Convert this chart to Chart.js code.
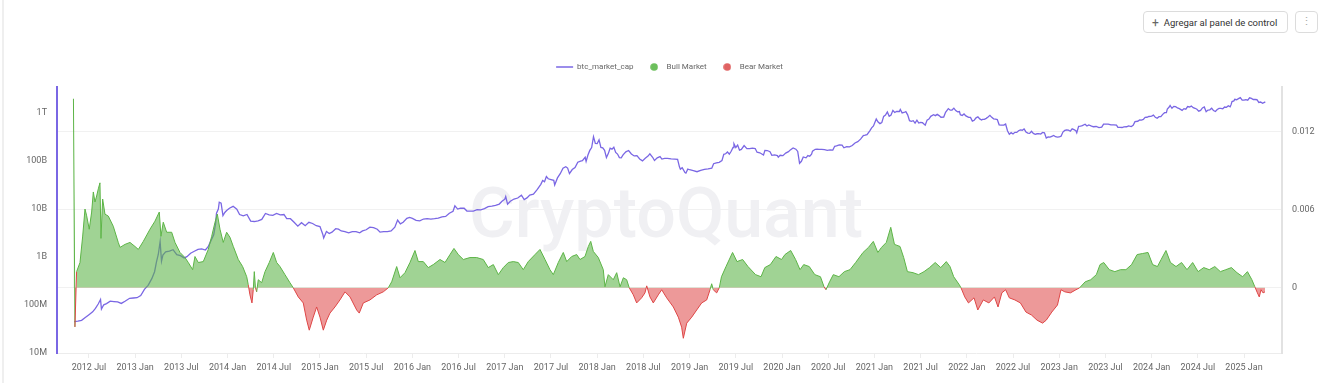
<!DOCTYPE html>
<html>
<head>
<meta charset="utf-8">
<script src="https://cdn.jsdelivr.net/npm/chart.js@4.4.1/dist/chart.umd.min.js"></script>
<style>
html,body{margin:0;padding:0;background:#fff;width:1320px;height:383px;overflow:hidden;font-family:Roboto,"Noto Sans",sans-serif;}
#wrap{position:absolute;left:0;top:0;width:1320px;height:383px;}
#edge{position:absolute;left:2px;top:0;width:2px;height:383px;background:#efefef;z-index:2;}
.btn{position:absolute;top:11px;height:20px;border:1px solid #dcdcdc;border-radius:4px;background:#fff;color:#333;font-size:9.5px;line-height:20px;z-index:3;white-space:nowrap;}
.btn .plus{color:#666;font-size:12px;margin:0 5px 0 8px;position:relative;top:1px;}
</style>
</head>
<body>
<div id="edge"></div>
<div id="wrap"><canvas id="c"></canvas></div>
<div class="btn" style="left:1143px;width:143px;"><span class="plus">+</span>Agregar al panel de control</div>
<div class="btn" style="left:1295px;width:21px;text-align:center;color:#aaa;font-size:11px;">&#8942;</div>
<script>
// ---------- DATA ----------
const seriesNames = ['btc_market_cap', 'Bull Market', 'Bear Market'];

const xTicks = [2012.5,2013,2013.5,2014,2014.5,2015,2015.5,2016,2016.5,2017,2017.5,2018,2018.5,2019,2019.5,2020,2020.5,2021,2021.5,2022,2022.5,2023,2023.5,2024,2024.5,2025];
const xTickLabels = ['2012 Jul','2013 Jan','2013 Jul','2014 Jan','2014 Jul','2015 Jan','2015 Jul','2016 Jan','2016 Jul','2017 Jan','2017 Jul','2018 Jan','2018 Jul','2019 Jan','2019 Jul','2020 Jan','2020 Jul','2021 Jan','2021 Jul','2022 Jan','2022 Jul','2023 Jan','2023 Jul','2024 Jan','2024 Jul','2025 Jan'];
const leftTicks = [1e7,1e8,1e9,1e10,1e11,1e12];
const leftTickLabels = ['10M','100M','1B','10B','100B','1T'];
const rightTicks = [0,0.006,0.012];
const rightTickLabels = ['0','0.006','0.012'];

// btc_market_cap (USD), x = decimal year
const capX = [2012.34,2012.38,2012.42,2012.46,2012.50,2012.54,2012.57,2012.60,2012.625,2012.635,2012.66,2012.69,2012.73,2012.77,2012.81,2012.85,2012.89,2012.94,2012.98,
2013.02,2013.06,2013.10,2013.14,2013.18,2013.21,2013.23,2013.25,2013.27,2013.285,2013.30,2013.33,2013.37,2013.41,2013.45,2013.49,2013.53,2013.56,2013.60,2013.64,2013.68,2013.72,2013.76,2013.79,2013.82,2013.85,2013.87,2013.88,2013.90,2013.91,2013.93,2013.95,2013.97,2013.99,
2014.02,2014.06,2014.10,2014.13,2014.17,2014.21,2014.25,2014.29,2014.33,2014.37,2014.41,2014.45,2014.49,2014.53,2014.57,2014.61,2014.64,2014.68,2014.72,2014.76,2014.80,2014.84,2014.88,2014.92,2014.96,
2015.00,2015.03,2015.04,2015.07,2015.10,2015.13,2015.17,2015.20,2015.23,2015.27,2015.31,2015.35,2015.39,2015.43,2015.46,2015.50,2015.54,2015.58,2015.62,2015.65,2015.69,2015.73,2015.77,2015.81,2015.84,2015.87,2015.90,2015.94,2015.97,
2016.00,2016.04,2016.08,2016.12,2016.16,2016.20,2016.24,2016.28,2016.32,2016.36,2016.40,2016.44,2016.46,2016.49,2016.52,2016.56,2016.59,2016.62,2016.66,2016.70,2016.74,2016.78,2016.82,2016.86,2016.90,2016.94,2016.97,
2017.00,2017.01,2017.03,2017.06,2017.10,2017.14,2017.18,2017.21,2017.24,2017.27,2017.31,2017.35,2017.39,2017.41,2017.43,2017.45,2017.47,2017.50,2017.53,2017.54,2017.57,2017.60,2017.63,2017.66,2017.68,2017.70,2017.73,2017.76,2017.79,2017.82,2017.84,2017.87,2017.88,2017.90,2017.92,2017.94,2017.96,2017.98,
2018.00,2018.02,2018.04,2018.06,2018.08,2018.10,2018.12,2018.14,2018.16,2018.18,2018.20,2018.22,2018.24,2018.26,2018.28,2018.31,2018.34,2018.37,2018.40,2018.43,2018.46,2018.49,2018.52,2018.55,2018.57,2018.60,2018.62,2018.65,2018.68,2018.70,2018.73,2018.76,2018.80,2018.84,2018.87,2018.89,2018.90,2018.92,2018.95,2018.96,2018.98,
2019.00,2019.04,2019.08,2019.12,2019.16,2019.20,2019.24,2019.26,2019.29,2019.32,2019.35,2019.37,2019.39,2019.41,2019.43,2019.45,2019.47,2019.48,2019.50,2019.52,2019.54,2019.56,2019.59,2019.62,2019.65,2019.68,2019.71,2019.73,2019.76,2019.80,2019.815,2019.84,2019.87,2019.89,2019.92,2019.95,2019.96,2019.98,
2020.01,2020.04,2020.07,2020.09,2020.12,2020.15,2020.17,2020.19,2020.21,2020.23,2020.26,2020.28,2020.30,2020.32,2020.33,2020.36,2020.38,2020.40,2020.43,2020.46,2020.49,2020.52,2020.55,2020.57,2020.59,2020.62,2020.65,2020.67,2020.70,2020.73,2020.76,2020.79,2020.82,2020.85,2020.88,2020.90,2020.92,2020.95,2020.97,2020.99,
2021.02,2021.04,2021.06,2021.08,2021.10,2021.12,2021.14,2021.16,2021.18,2021.20,2021.22,2021.24,2021.27,2021.28,2021.30,2021.32,2021.34,2021.36,2021.38,2021.40,2021.42,2021.44,2021.46,2021.48,2021.50,2021.52,2021.55,2021.57,2021.59,2021.61,2021.64,2021.66,2021.68,2021.70,2021.72,2021.75,2021.77,2021.80,2021.82,2021.84,2021.86,2021.88,2021.90,2021.92,2021.93,2021.95,2021.97,2021.99,
2022.02,2022.04,2022.06,2022.08,2022.10,2022.12,2022.14,2022.16,2022.17,2022.19,2022.21,2022.23,2022.25,2022.27,2022.29,2022.31,2022.33,2022.35,2022.37,2022.40,2022.42,2022.44,2022.46,2022.48,2022.50,2022.52,2022.54,2022.56,2022.58,2022.60,2022.62,2022.64,2022.66,2022.68,2022.70,2022.72,2022.74,2022.76,2022.78,2022.80,2022.82,2022.84,2022.86,2022.88,2022.90,2022.92,2022.94,2022.96,2022.98,
2023.00,2023.02,2023.04,2023.06,2023.08,2023.10,2023.12,2023.14,2023.16,2023.18,2023.19,2023.21,2023.23,2023.25,2023.28,2023.30,2023.32,2023.35,2023.37,2023.40,2023.43,2023.46,2023.48,2023.50,2023.53,2023.56,2023.59,2023.62,2023.635,2023.66,2023.68,2023.70,2023.73,2023.75,2023.78,2023.80,2023.82,2023.85,2023.87,2023.89,2023.91,2023.93,2023.95,2023.97,
2024.00,2024.02,2024.04,2024.06,2024.08,2024.10,2024.12,2024.14,2024.16,2024.17,2024.19,2024.20,2024.22,2024.24,2024.26,2024.28,2024.30,2024.33,2024.35,2024.37,2024.39,2024.41,2024.43,2024.45,2024.47,2024.49,2024.51,2024.53,2024.55,2024.57,2024.59,2024.61,2024.63,2024.65,2024.67,2024.69,2024.71,2024.73,2024.75,2024.77,2024.79,2024.81,2024.83,2024.85,2024.86,2024.87,2024.89,2024.90,2024.92,2024.94,2024.96,2024.98,
2025.00,2025.02,2025.04,2025.06,2025.08,2025.10,2025.12,2025.14,2025.16,2025.18,2025.20,2025.22,2025.23];
const capV = [4.5e7,4.6e7,4.8e7,5.5e7,6.3e7,7.2e7,8.5e7,1.05e8,1.3e8,8.2e7,1.01e8,1.07e8,1.2e8,1.18e8,1.16e8,1.08e8,1.2e8,1.38e8,1.4e8,
1.42e8,1.58e8,2.12e8,2.56e8,3.54e8,4.95e8,7.8e8,1.13e9,2.1e9,8.2e8,1.1e9,1.28e9,1.33e9,1.42e9,1.12e9,1.07e9,9.6e8,1.02e9,1.2e9,1.32e9,1.44e9,1.48e9,1.4e9,1.64e9,2.2e9,2.9e9,4.9e9,8.2e9,1.0e10,1.39e10,1.33e10,7.3e9,8.5e9,9.3e9,
1.04e10,1.14e10,9.9e9,7.7e9,7.2e9,7.7e9,5.6e9,5.5e9,5.7e9,6.1e9,8.1e9,7.6e9,7.4e9,8.1e9,7.6e9,7.7e9,6.3e9,6.3e9,5.3e9,4.4e9,5.2e9,4.5e9,5.3e9,5.0e9,4.5e9,
4.3e9,3.0e9,2.5e9,3.4e9,3.1e9,3.3e9,3.9e9,3.8e9,3.5e9,3.4e9,3.2e9,3.4e9,3.4e9,3.2e9,3.5e9,3.7e9,4.2e9,4.1e9,3.8e9,3.3e9,3.4e9,3.4e9,3.5e9,4.2e9,5.9e9,4.9e9,5.3e9,6.4e9,6.7e9,
6.4e9,5.8e9,5.7e9,6.2e9,6.3e9,6.2e9,6.3e9,6.5e9,6.9e9,7.0e9,8.2e9,9.0e9,1.17e10,1.0e10,1.05e10,1.04e10,9.1e9,9.1e9,9.1e9,9.7e9,9.6e9,1.02e10,1.12e10,1.15e10,1.19e10,1.27e10,1.45e10,
1.61e10,1.82e10,1.26e10,1.45e10,1.62e10,1.70e10,1.95e10,1.58e10,1.71e10,1.96e10,2.04e10,2.54e10,3.28e10,3.94e10,3.70e10,4.77e10,4.28e10,4.12e10,3.96e10,3.18e10,4.46e10,5.46e10,7.13e10,7.63e10,7.14e10,5.48e10,6.65e10,7.32e10,9.5e10,1.0e11,1.02e11,1.2e11,9.86e10,1.34e11,1.67e11,1.92e11,3.23e11,2.34e11,
2.31e11,2.76e11,1.93e11,1.88e11,1.68e11,1.18e11,1.43e11,1.85e11,1.77e11,1.94e11,1.52e11,1.40e11,1.18e11,1.17e11,1.35e11,1.56e11,1.66e11,1.41e11,1.28e11,1.30e11,1.11e11,1.01e11,1.15e11,1.27e11,1.42e11,1.20e11,1.03e11,1.17e11,1.24e11,1.10e11,1.14e11,1.14e11,1.11e11,1.10e11,1.09e11,7.6e10,6.8e10,7.3e10,5.75e10,5.6e10,6.8e10,
6.6e10,6.3e10,6.0e10,6.4e10,6.75e10,6.87e10,7.1e10,8.8e10,9.2e10,9.4e10,1.02e11,1.38e11,1.42e11,1.55e11,1.40e11,1.60e11,1.92e11,2.30e11,1.92e11,2.15e11,1.69e11,1.75e11,2.11e11,1.82e11,1.82e11,1.86e11,1.83e11,1.53e11,1.49e11,1.34e11,1.67e11,1.66e11,1.57e11,1.32e11,1.35e11,1.30e11,1.21e11,1.32e11,
1.30e11,1.47e11,1.57e11,1.71e11,1.88e11,1.77e11,1.59e11,9.0e10,9.9e10,1.22e11,1.17e11,1.30e11,1.26e11,1.39e11,1.61e11,1.76e11,1.78e11,1.75e11,1.75e11,1.73e11,1.68e11,1.71e11,1.70e11,2.03e11,2.07e11,2.18e11,2.14e11,1.89e11,2.00e11,1.98e11,2.11e11,2.39e11,2.54e11,2.87e11,3.39e11,3.47e11,3.56e11,4.27e11,4.92e11,5.39e11,
7.52e11,6.50e11,6.04e11,6.32e11,8.55e11,9.12e11,1.06e12,8.57e11,9.13e11,1.14e12,1.03e12,1.08e12,1.08e12,1.19e12,1.01e12,1.03e12,1.07e12,9.2e11,6.95e11,6.76e11,6.95e11,6.2e11,7.14e11,6.2e11,6.39e11,6.3e11,5.61e11,7.15e11,7.53e11,8.57e11,9.23e11,8.85e11,9.42e11,8.86e11,8.2e11,8.26e11,1.04e12,1.24e12,1.15e12,1.16e12,1.27e12,1.13e12,1.06e12,1.08e12,9.26e11,8.88e11,9.6e11,8.75e11,
8.13e11,8.13e11,6.81e11,7.1e11,7.95e11,8.33e11,7.57e11,7.2e11,7.39e11,7.39e11,7.77e11,8.34e11,8.99e11,8.16e11,7.6e11,7.51e11,7.32e11,5.7e11,5.61e11,5.61e11,5.9e11,4.29e11,3.62e11,3.91e11,3.68e11,3.97e11,3.95e11,4.29e11,4.45e11,4.39e11,4.66e11,4.05e11,3.82e11,3.78e11,4.17e11,3.77e11,3.62e11,3.71e11,3.73e11,3.66e11,3.96e11,3.87e11,3.03e11,3.2e11,3.16e11,3.28e11,3.41e11,3.22e11,3.17e11,
3.18e11,3.3e11,4.03e11,4.36e11,4.44e11,4.4e11,4.19e11,4.71e11,4.52e11,4.31e11,3.89e11,5.3e11,5.36e11,5.5e11,5.85e11,5.37e11,5.66e11,5.35e11,5.2e11,5.26e11,4.99e11,5.09e11,5.9e11,5.9e11,5.87e11,5.66e11,5.66e11,5.63e11,5.07e11,5.05e11,5.01e11,5.17e11,5.19e11,5.43e11,5.24e11,5.55e11,6.62e11,6.76e11,7.21e11,7.12e11,7.37e11,8.15e11,8.2e11,8.5e11,
8.64e11,9.09e11,8.16e11,7.81e11,8.42e11,8.45e11,9.41e11,1.02e12,1.02e12,1.22e12,1.34e12,1.44e12,1.26e12,1.38e12,1.36e12,1.28e12,1.24e12,1.14e12,1.24e12,1.21e12,1.37e12,1.34e12,1.4e12,1.3e12,1.26e12,1.2e12,1.1e12,1.14e12,1.28e12,1.34e12,1.07e12,1.16e12,1.17e12,1.26e12,1.13e12,1.08e12,1.19e12,1.25e12,1.26e12,1.23e12,1.34e12,1.32e12,1.42e12,1.35e12,1.5e12,1.74e12,1.8e12,1.94e12,1.9e12,2.0e12,2.1e12,1.86e12,
1.86e12,1.9e12,1.86e12,2.08e12,2.02e12,1.92e12,1.92e12,1.9e12,1.67e12,1.7e12,1.6e12,1.67e12,1.73e12];

// Bull / Bear market indicator (right axis), x = decimal year
const cycleX = [2012.332,2012.348,2012.366,2012.403,2012.432,2012.457,2012.475,2012.503,2012.529,2012.547,2012.565,2012.583,2012.601,2012.619,2012.630,2012.648,2012.673,2012.709,2012.763,2012.817,2012.836,2012.890,2012.944,2012.998,
2013.034,2013.088,2013.160,2013.214,2013.261,2013.279,2013.304,2013.341,2013.395,2013.431,2013.485,2013.539,2013.575,2013.622,2013.647,2013.683,2013.737,2013.791,2013.828,2013.864,2013.889,2013.918,2013.953,2013.990,
2014.026,2014.062,2014.116,2014.163,2014.207,2014.224,2014.242,2014.264,2014.278,2014.289,2014.302,2014.315,2014.332,2014.369,2014.405,2014.451,2014.495,2014.531,2014.567,2014.621,2014.675,2014.711,2014.765,2014.819,2014.856,2014.884,2014.927,2014.964,
2015.000,2015.036,2015.073,2015.108,2015.162,2015.216,2015.271,2015.325,2015.397,2015.425,2015.469,2015.541,2015.614,2015.685,2015.739,2015.776,2015.830,2015.866,2015.920,2015.974,
2016.028,2016.064,2016.118,2016.172,2016.226,2016.299,2016.353,2016.407,2016.450,2016.497,2016.551,2016.623,2016.696,2016.767,2016.821,2016.876,2016.930,2016.984,
2017.038,2017.092,2017.146,2017.200,2017.254,2017.327,2017.381,2017.435,2017.489,2017.525,2017.579,2017.633,2017.670,2017.724,2017.778,2017.814,2017.868,2017.904,2017.930,2017.958,
2018.012,2018.066,2018.084,2018.120,2018.174,2018.211,2018.247,2018.283,2018.319,2018.347,2018.391,2018.427,2018.481,2018.517,2018.536,2018.571,2018.607,2018.661,2018.698,2018.752,2018.824,2018.878,2018.914,2018.932,2018.969,
2019.023,2019.077,2019.131,2019.185,2019.221,2019.239,2019.256,2019.293,2019.321,2019.345,2019.394,2019.465,2019.513,2019.574,2019.632,2019.714,2019.773,2019.814,2019.874,2019.935,2019.995,
2020.032,2020.094,2020.147,2020.195,2020.235,2020.295,2020.355,2020.416,2020.455,2020.476,2020.515,2020.555,2020.616,2020.675,2020.736,2020.797,2020.877,2020.936,2020.988,
2021.037,2021.077,2021.129,2021.177,2021.217,2021.277,2021.317,2021.357,2021.418,2021.477,2021.537,2021.597,2021.658,2021.718,2021.778,2021.818,2021.858,2021.919,2021.937,2021.978,
2022.018,2022.078,2022.119,2022.178,2022.239,2022.299,2022.338,2022.379,2022.420,2022.460,2022.520,2022.580,2022.640,2022.700,2022.760,2022.820,2022.860,2022.920,2022.981,
2023.019,2023.061,2023.121,2023.181,2023.221,2023.281,2023.341,2023.402,2023.442,2023.482,2023.542,2023.602,2023.663,2023.722,2023.783,2023.843,2023.903,2023.961,
2024.011,2024.063,2024.103,2024.155,2024.204,2024.264,2024.324,2024.383,2024.444,2024.503,2024.564,2024.624,2024.684,2024.744,2024.803,2024.864,2024.924,2024.985,
2025.037,2025.085,2025.117,2025.145,2025.165,2025.184,2025.206,2025.227];
const cycleV = [0.0145,-0.0030,0.00124,0.00194,0.00397,0.00604,0.00552,0.00449,0.00581,0.00735,0.00658,0.00704,0.00759,0.00805,0.00379,0.00681,0.00565,0.00550,0.00472,0.00348,0.00310,0.00333,0.00348,0.00317,
0.00294,0.00356,0.00449,0.00511,0.00581,0.00395,0.00503,0.00426,0.00426,0.00348,0.00271,0.00232,0.00194,0.00139,0.00240,0.00194,0.00201,0.00294,0.00395,0.00503,0.00565,0.00449,0.00348,0.00426,
0.00387,0.00317,0.00217,0.00163,0.00085,0.00023,-0.00054,-0.00116,-0.00015,0.00124,0.00000,-0.00031,0.00062,0.00039,0.00124,0.00194,0.00271,0.00194,0.00163,0.00101,0.00039,0.00000,-0.00070,-0.00116,-0.00248,-0.00325,-0.00225,-0.00147,
-0.00225,-0.00325,-0.00248,-0.00194,-0.00147,-0.00093,-0.00031,-0.00070,-0.00170,-0.00194,-0.00116,-0.00093,-0.00054,-0.00031,0.00000,0.00046,0.00163,0.00077,0.00116,0.00194,
0.00286,0.00201,0.00201,0.00155,0.00178,0.00217,0.00194,0.00255,0.00302,0.00255,0.00217,0.00232,0.00232,0.00217,0.00155,0.00178,0.00101,0.00155,
0.00194,0.00201,0.00194,0.00139,0.00201,0.00255,0.00294,0.00217,0.00139,0.00101,0.00194,0.00271,0.00201,0.00240,0.00255,0.00217,0.00240,0.00317,0.00356,0.00279,
0.00232,0.00139,0.00008,0.00101,0.00062,0.00116,0.00008,0.00077,0.00062,0.00000,-0.00054,-0.00116,-0.00077,-0.00039,0.00015,-0.00070,-0.00116,-0.00054,-0.00015,-0.00077,-0.00147,-0.00225,-0.00302,-0.00387,-0.00271,
-0.00225,-0.00170,-0.00116,-0.00093,-0.00015,0.00031,-0.00015,-0.00039,0.00000,0.00085,0.00163,0.00271,0.00201,0.00217,0.00163,0.00101,0.00085,0.00155,0.00178,0.00240,0.00217,
0.00255,0.00286,0.00217,0.00139,0.00178,0.00163,0.00101,0.00085,0.00008,-0.00015,0.00046,0.00101,0.00085,0.00124,0.00139,0.00194,0.00271,0.00310,0.00356,
0.00271,0.00310,0.00348,0.00464,0.00333,0.00317,0.00232,0.00124,0.00116,0.00101,0.00124,0.00155,0.00194,0.00155,0.00201,0.00163,0.00085,0.00023,0.00000,-0.00070,
-0.00116,-0.00077,-0.00170,-0.00093,-0.00116,-0.00070,-0.00147,-0.00039,-0.00015,-0.00077,-0.00093,-0.00116,-0.00186,-0.00209,-0.00248,-0.00271,-0.00248,-0.00186,-0.00132,
-0.00015,-0.00031,-0.00039,-0.00015,0.00000,0.00046,0.00062,0.00101,0.00178,0.00194,0.00139,0.00124,0.00139,0.00139,0.00178,0.00255,0.00263,0.00271,
0.00178,0.00163,0.00217,0.00286,0.00194,0.00163,0.00194,0.00139,0.00194,0.00124,0.00155,0.00139,0.00163,0.00124,0.00139,0.00155,0.00116,0.00085,
0.00124,0.00062,0.00008,-0.00039,-0.00070,-0.00015,-0.00039,-0.00031];

// ---------- STYLE ----------
const PURPLE = '#7a67e4';
const GREEN = '#5cb446';
const RED = '#de4646';
const GREEN_FILL = 'rgba(92,180,70,0.58)';
const RED_FILL = 'rgba(222,70,70,0.55)';

function dotImage(color){
  const c = document.createElement('canvas');
  c.width = 8; c.height = 8;
  const g = c.getContext('2d');
  g.fillStyle = color; g.beginPath(); g.arc(4,4,3.8,0,Math.PI*2); g.fill();
  return c;
}
const greenDot = dotImage('#6cbf5c');
const redDot = dotImage('#e06262');

Chart.defaults.font.family = 'Roboto, "Noto Sans", sans-serif';
Chart.defaults.font.size = 9;
Chart.defaults.color = '#666';

const watermark = {
  id: 'watermark',
  beforeDatasetsDraw(chart){
    const ctx = chart.ctx;
    ctx.save();
    ctx.font = '500 70px Roboto';
    ctx.fillStyle = '#f0f0f3';
    ctx.textAlign = 'left';
    ctx.textBaseline = 'alphabetic';
    ctx.fillText('CryptoQuant', 469, 237);
    ctx.restore();
  }
};
const legendGap = {
  id: 'legendGap',
  beforeInit(chart){
    const fit = chart.legend.fit;
    chart.legend.fit = function(){ fit.bind(chart.legend)(); this.height += 6; };
  }
};

new Chart(document.getElementById('c'), {
  type: 'line',
  data: {
    datasets: [
      {
        label: seriesNames[0],
        data: capX.map((x,i)=>({x, y: capV[i]})),
        yAxisID: 'y',
        borderColor: PURPLE,
        borderWidth: 1.3,
        pointRadius: 0,
        tension: 0,
        fill: false,
        order: 1
      },
      {
        label: seriesNames[1],
        data: cycleX.map((x,i)=>({x, y: cycleV[i]})),
        yAxisID: 'y1',
        borderColor: GREEN,
        borderWidth: 1,
        pointRadius: 0,
        tension: 0,
        fill: {target: 'origin', above: GREEN_FILL, below: RED_FILL},
        segment: {
          borderColor: c => ((c.p0.parsed.y + c.p1.parsed.y) / 2 >= 0 ? GREEN : RED)
        },
        order: 0
      }
    ]
  },
  options: {
    responsive: true,
    maintainAspectRatio: false,
    animation: false,
    layout: {padding: {top: 51, left: 19, right: 0, bottom: 0}},
    plugins: {
      tooltip: {enabled: false},
      legend: {
        display: true,
        position: 'top',
        onClick: null,
        labels: {
          usePointStyle: true,
          pointStyleWidth: 17,
          boxHeight: 8,
          padding: 12,
          color: '#666',
          font: {size: 8},
          generateLabels: () => [
            {text: seriesNames[0], pointStyle: 'line', strokeStyle: PURPLE, fillStyle: PURPLE, lineWidth: 1.5, fontColor: '#666', datasetIndex: 0},
            {text: seriesNames[1], pointStyle: greenDot, strokeStyle: 'transparent', fillStyle: GREEN, lineWidth: 0, fontColor: '#666', datasetIndex: 1},
            {text: seriesNames[2], pointStyle: redDot, strokeStyle: 'transparent', fillStyle: RED, lineWidth: 0, fontColor: '#666', datasetIndex: 1}
          ]
        }
      }
    },
    scales: {
      x: {
        type: 'linear',
        min: 2012.154,
        max: 2025.411,
        afterBuildTicks: s => { s.ticks = xTicks.map(v => ({value: v})); },
        afterFit: s => { s.height = 30; },
        ticks: {
          autoSkip: false, maxRotation: 0, padding: 4, color: '#666',
          callback: (v, i) => xTickLabels[i]
        },
        grid: {drawOnChartArea: false, drawTicks: true, tickLength: 5, color: '#ececec'},
        border: {display: true, color: '#ececec', width: 1}
      },
      y: {
        type: 'logarithmic',
        position: 'left',
        min: 1e7,
        max: 3.5e12,
        afterBuildTicks: s => { s.ticks = leftTicks.map(v => ({value: v})); },
        afterFit: s => { s.width = 38; },
        ticks: {padding: 10, color: '#666', callback: (v, i) => leftTickLabels[i]},
        grid: {display: true, drawOnChartArea: false, drawTicks: false},
        border: {display: true, color: PURPLE, width: 2}
      },
      y1: {
        type: 'linear',
        position: 'right',
        min: -0.005,
        max: 0.0154,
        afterBuildTicks: s => { s.ticks = rightTicks.map(v => ({value: v})); },
        afterFit: s => { s.width = 38; },
        ticks: {padding: 10, color: '#666', callback: (v, i) => rightTickLabels[i]},
        grid: {display: true, drawOnChartArea: true, drawTicks: false, color: '#f1f1f1'},
        border: {display: true, color: '#e2e2e2', width: 2}
      }
    }
  },
  plugins: [watermark, legendGap]
});
</script>
</body>
</html>
